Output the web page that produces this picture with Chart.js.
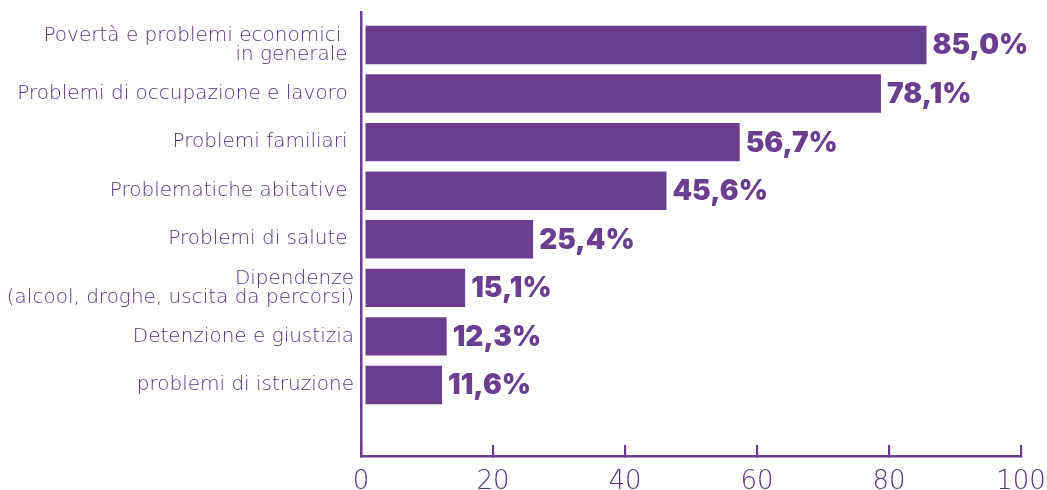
<!DOCTYPE html>
<html><head><meta charset="utf-8">
<script src="https://cdn.jsdelivr.net/npm/chart.js@4.4.1/dist/chart.umd.min.js"></script>
<style>html,body{margin:0;padding:0;background:#fff;overflow:hidden;}</style>
</head><body>
<canvas id="c" width="1047" height="490"></canvas>
<script>
const categories = [
  ["Povertà e problemi economici  ", "in generale "],
  "Problemi di occupazione e lavoro ",
  "Problemi familiari ",
  "Problematiche abitative ",
  "Problemi di salute ",
  ["Dipendenze", "(alcool, droghe, uscita da percorsi)"],
  "Detenzione e giustizia",
  "problemi di istruzione"
];
const values = [85.0, 78.1, 56.7, 45.6, 25.4, 15.1, 12.3, 11.6];
const xMin = 0, xMax = 100, xStep = 20;

const PURPLE = '#6b3f8f';
const TEXT = '#5e3088';
const fmt = v => v.toFixed(1).replace('.', ',') + '%';

const valueLabelPlugin = {
  id: 'valueLabels',
  afterDatasetsDraw(chart) {
    const ctx = chart.ctx;
    const meta = chart.getDatasetMeta(0);
    ctx.save();
    ctx.font = '900 28px Inter';
    ctx.fillStyle = PURPLE;
    ctx.textAlign = 'left';
    ctx.textBaseline = 'middle';
    meta.data.forEach((bar, i) => {
      ctx.fillText(fmt(values[i]), bar.x + 6, bar.y + 1);
    });
    ctx.restore();
  }
};

new Chart(document.getElementById('c'), {
  type: 'bar',
  data: {
    datasets: [{
      data: values.map((v, i) => ({ x: v, y: i })),
      backgroundColor: PURPLE,
      borderWidth: 0,
      xAxisID: 'xb',
      yAxisID: 'y',
      categoryPercentage: 1,
      barPercentage: 0.79
    }]
  },
  options: {
    indexAxis: 'y',
    responsive: false,
    animation: false,
    devicePixelRatio: 1,
    layout: { padding: { top: 12, right: 26, bottom: 0, left: 0 } },
    plugins: { legend: { display: false }, tooltip: { enabled: false } },
    scales: {
      x: {
        type: 'linear', position: 'bottom', min: xMin, max: xMax,
        ticks: { stepSize: xStep, color: TEXT, font: { family: 'DejaVu Sans', weight: 200, size: 26 }, padding: 22 },
        grid: { display: true, drawOnChartArea: false, drawTicks: true, tickLength: -11, color: PURPLE, lineWidth: 2.2 },
        border: { display: true, color: PURPLE, width: 2.5 },
        afterFit: s => { s.height = 34; s.paddingLeft = 0; s.paddingRight = 0; }
      },
      xb: { type: 'linear', position: 'bottom', display: false, min: -0.68, max: 99.32 },
      y: {
        type: 'linear', reverse: true, offset: false, min: -0.679, max: 8.462, bounds: 'data',
        afterBuildTicks: s => { s.ticks = categories.map((c, i) => ({ value: i })); },
        ticks: {
          callback: v => categories[v],
          color: TEXT, autoSkip: false, padding: 7,
          font: { family: 'DejaVu Sans', weight: 200, size: 20, lineHeight: 0.95 }
        },
        grid: { display: false, drawTicks: false, offset: false },
        border: { display: true, color: PURPLE, width: 2.5 },
        afterFit: s => { s.width = 361; s.paddingTop = 0; s.paddingBottom = 0; }
      }
    }
  },
  plugins: [valueLabelPlugin]
});
</script>
</body></html>
